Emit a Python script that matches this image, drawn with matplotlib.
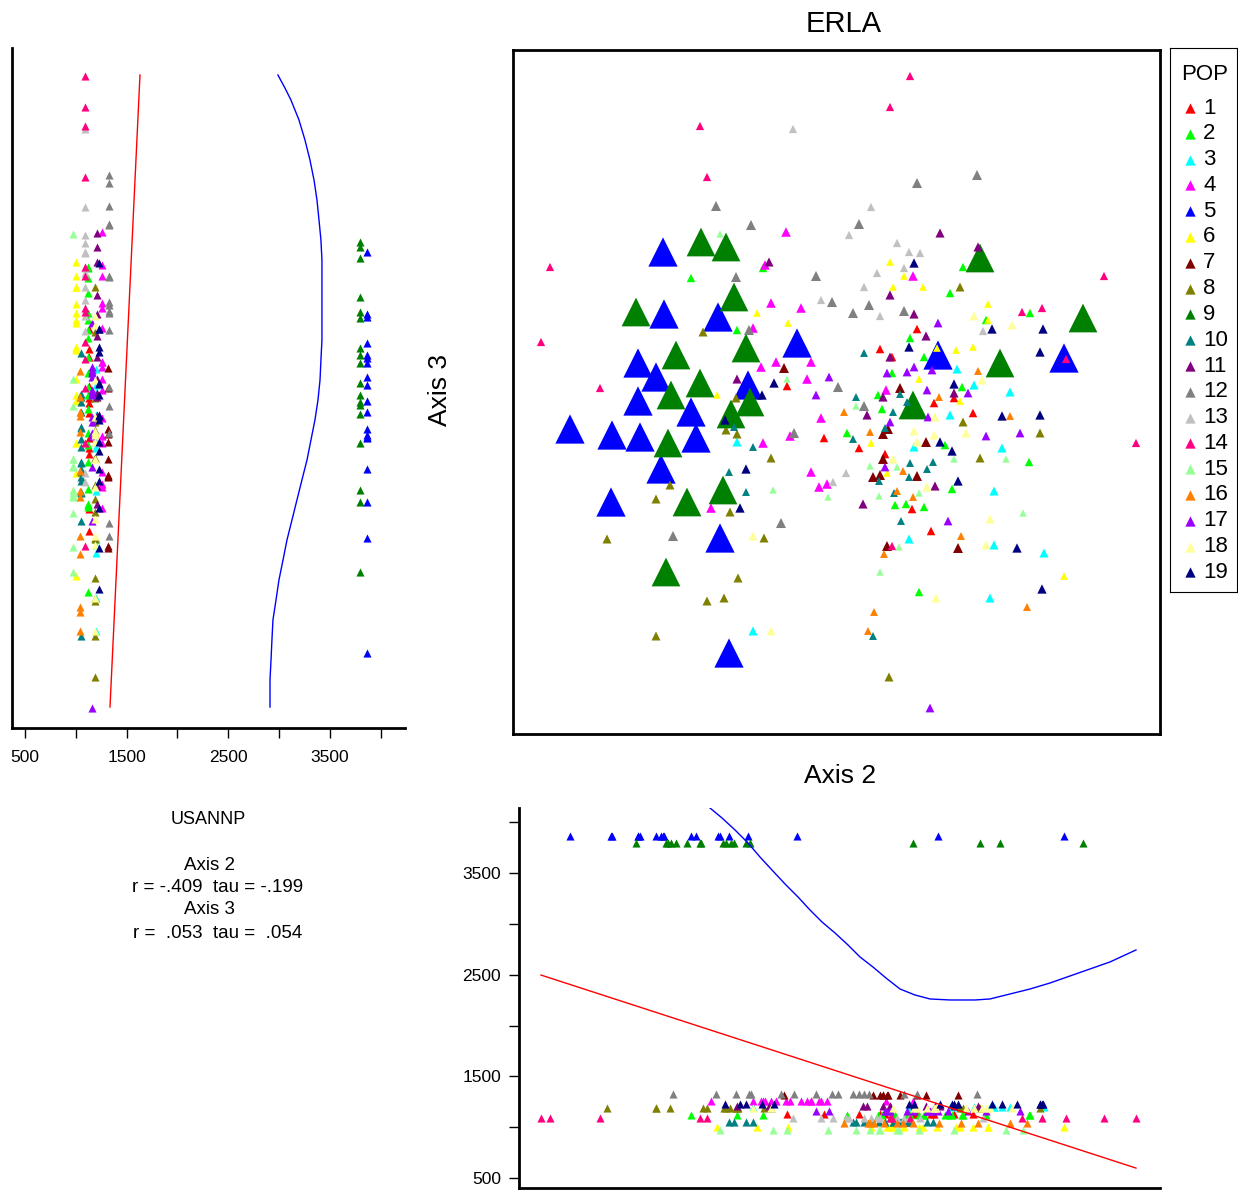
import numpy as np
import matplotlib.pyplot as plt

plt.rcParams['font.family'] = ['Liberation Sans', 'DejaVu Sans']

# populations: colour and USANNP value of each
pop_ids = list(range(1, 20))
pop_colors = ['#FF0000', '#00FF00', '#00FFFF', '#FF00FF', '#0000FF', '#FFFF00',
              '#800000', '#808000', '#008000', '#008080', '#800080', '#808080',
              '#C0C0C0', '#FF0080', '#99FF99', '#FF8000', '#9900FF', '#FFFF99',
              '#000080']
pop_usannp = [1130, 1116, 1200, 1262, 3866, 1003, 1313, 1190, 3797, 1047,
              1205, 1328, 1090, 1090, 973, 1045, 1158, 1190, 1230]

# plot scores on Axis 2 / Axis 3 and population of each plot
axis2 = [187, 194, 203, 207, 188, 213, 150, 37, 178, 397, 377, 280, 404, 358, 238,
         346, 273, 336, 427, 384, 396, 407, 377, 401, 391, 250, 252, 256, 223, 303,
         364, 391, 400, 464, 465, 467, 450, 591, 123, 151, 205, 221, 190, 28, 125,
         163, 143, 187, 87, 204, 158, 125, 178, 212, 213, 218, 57, 99, 127, 155,
         183, 148, 157, 216, 210, 143, 98, 174, 198, 258, 288, 308, 319, 351, 356,
         340, 367, 377, 380, 410, 391, 401, 244, 275, 284, 224, 240, 236, 233, 425,
         404, 397, 413, 396, 411, 425, 424, 351, 367, 377, 379, 263, 298, 248, 271,
         274, 274, 374, 379, 394, 401, 419, 406, 224, 235, 249, 261, 294, 316, 325,
         303, 237, 223, 343, 343, 351, 354, 331, 365, 373, 370, 387, 387, 414, 394,
         421, 426, 400, 369, 380, 308, 415, 422, 377, 372, 375, 370, 357, 221, 224,
         224, 277, 281, 311, 334, 340, 346, 358, 401, 404, 401, 413, 421, 427, 240,
         250, 258, 233, 372, 370, 380, 397, 420, 357, 372, 374, 384, 390, 396, 404,
         414, 360, 367, 366, 298, 333, 320, 306, 314, 260, 233, 315, 366, 381, 384,
         400, 406, 414, 422, 350, 382, 393, 411, 399, 227, 217, 437, 447, 475, 461,
         473, 475, 470, 479, 499, 509, 517, 529, 530, 570, 443, 460, 487, 527, 551,
         553, 444, 465, 469, 461, 441, 449, 441, 455, 441, 447, 497, 437, 460, 450,
         489, 497, 527, 453, 473, 507, 527, 623, 432, 439, 441, 467, 489, 493, 516,
         445, 439, 481, 94, 160, 207, 153, 194, 211, 143, 216, 268, 240, 251, 225,
         240, 258, 388, 418, 396, 374, 379, 386, 371, 367, 406, 423, 361, 355, 360,
         376, 417, 435, 477, 510, 448, 445, 473, 481, 504, 531, 551, 529, 477, 514]
axis3 = [608, 557, 528, 500, 492, 487, 482, 467, 456, 658, 627, 605, 551, 527, 509,
         510, 502, 499, 501, 491, 482, 481, 472, 471, 466, 466, 469, 472, 457, 458,
         461, 458, 458, 559, 487, 476, 467, 458, 422, 420, 417, 437, 402, 392, 371,
         379, 357, 351, 346, 339, 339, 333, 322, 314, 304, 320, 305, 299, 297, 291,
         296, 265, 249, 262, 244, 235, 232, 232, 226, 431, 426, 434, 432, 447, 429,
         421, 418, 439, 447, 447, 423, 420, 421, 411, 391, 404, 406, 404, 386, 411,
         405, 396, 398, 387, 377, 379, 386, 381, 385, 377, 377, 372, 372, 367, 366,
         355, 348, 361, 361, 362, 367, 364, 355, 355, 349, 339, 351, 355, 357, 347,
         339, 332, 336, 337, 328, 328, 319, 322, 339, 344, 337, 346, 340, 344, 332,
         331, 337, 329, 325, 322, 316, 317, 317, 312, 306, 305, 300, 302, 307, 300,
         292, 298, 301, 296, 301, 295, 286, 291, 303, 292, 287, 292, 299, 292, 287,
         291, 276, 265, 280, 275, 275, 271, 272, 268, 267, 261, 267, 263, 257, 258,
         265, 257, 259, 253, 262, 261, 252, 247, 250, 244, 242, 237, 238, 241, 243,
         237, 241, 247, 248, 230, 229, 230, 227, 225, 226, 222, 441, 447, 430, 418,
         414, 414, 403, 405, 409, 422, 421, 426, 405, 416, 384, 387, 371, 382, 376,
         375, 365, 363, 354, 349, 350, 347, 341, 341, 336, 333, 342, 319, 321, 312,
         318, 318, 319, 301, 298, 301, 301, 291, 289, 283, 275, 276, 286, 275, 272,
         253, 245, 243, 195, 198, 196, 162, 133, 136, 98, 81, 211, 198, 196, 156,
         103, 103, 213, 203, 195, 188, 188, 187, 180, 162, 142, 136, 122, 103, 98,
         57, 26, 213, 215, 221, 198, 186, 189, 189, 186, 181, 158, 145, 136, 127]
pop = [14, 14, 12, 15, 9, 9, 5, 14, 2, 14, 14, 13, 12, 13, 12,
       12, 4, 13, 11, 13, 13, 13, 6, 19, 13, 2, 4, 11, 12, 12,
       13, 6, 4, 12, 11, 9, 2, 14, 9, 5, 5, 9, 8, 14, 5,
       9, 5, 9, 14, 6, 9, 5, 5, 19, 8, 9, 5, 5, 5, 9,
       5, 5, 8, 10, 9, 8, 5, 9, 4, 4, 4, 13, 12, 13, 12,
       12, 13, 11, 6, 6, 12, 11, 6, 6, 5, 2, 4, 12, 9, 17,
       1, 2, 11, 19, 2, 5, 6, 10, 1, 11, 1, 4, 4, 4, 7,
       15, 1, 17, 2, 17, 17, 17, 6, 11, 5, 19, 19, 4, 17, 12,
       17, 9, 8, 10, 15, 12, 11, 16, 2, 4, 11, 7, 10, 17, 10,
       1, 16, 9, 2, 10, 4, 17, 18, 17, 10, 7, 7, 16, 10, 8,
       3, 4, 12, 1, 2, 10, 1, 6, 18, 18, 3, 7, 18, 19, 10,
       4, 8, 19, 1, 7, 18, 10, 10, 15, 17, 6, 15, 16, 10, 7,
       10, 7, 7, 10, 4, 13, 13, 4, 4, 15, 10, 15, 15, 10, 16,
       16, 15, 18, 11, 11, 2, 2, 2, 1, 19, 8, 2, 8, 6, 18,
       2, 6, 13, 19, 18, 14, 2, 14, 19, 9, 6, 6, 9, 19, 5,
       14, 3, 16, 18, 3, 19, 2, 11, 17, 1, 6, 3, 3, 1, 8,
       19, 16, 19, 18, 17, 17, 8, 14, 2, 19, 15, 8, 3, 15, 2,
       19, 2, 3, 8, 12, 5, 9, 8, 8, 8, 5, 12, 18, 8, 8,
       3, 18, 10, 1, 3, 7, 14, 15, 16, 15, 2, 18, 16, 16, 10,
       8, 17, 17, 18, 15, 16, 7, 18, 3, 19, 3, 6, 19, 3, 16]

# fitted lines: USANNP on Axis 3 (left joint plot)
fit3_axis3 = [27, 659]
fit3_usannp = [1336, 1631]
smooth3_axis3 = [27, 54, 74, 94, 114, 134, 154, 174, 194, 214, 234, 254, 274, 294, 314, 334, 354,
                 374, 394, 414, 434, 454, 474, 494, 514, 534, 554, 574, 594, 614, 634, 646, 659]
smooth3_usannp = [2910, 2910, 2920, 2929, 2939, 2969, 2998, 3038, 3077, 3126, 3175, 3224, 3274,
                  3313, 3352, 3382, 3402, 3411, 3421, 3421, 3421, 3421, 3421, 3411, 3392, 3372,
                  3343, 3303, 3254, 3195, 3116, 3057, 2988]
# fitted lines: USANNP on Axis 2 (bottom joint plot)
fit2_axis2 = [28, 623]
fit2_usannp = [2496, 598]
smooth2_axis2 = [197, 209, 222, 235, 247, 259, 272, 285, 297, 309, 322, 335, 347, 360, 373,
                 387, 402, 417, 437, 462, 477, 497, 517, 537, 557, 577, 597, 612, 623]
smooth2_usannp = [4139, 4041, 3923, 3795, 3657, 3529, 3392, 3264, 3136, 3018, 2910, 2792, 2674,
                  2575, 2467, 2359, 2300, 2261, 2251, 2251, 2261, 2310, 2359, 2418, 2487, 2556,
                  2625, 2693, 2743]

W, H = 1238, 1191
fig = plt.figure(figsize=(W / 100, H / 100), dpi=100)


def box(x0, y0, x1, y1):
    return [x0 / W, 1 - y1 / H, (x1 - x0) / W, (y1 - y0) / H]


a2 = np.array(axis2)
a3 = np.array(axis3)
pp = np.array(pop)
u = np.array(pop_usannp)[pp - 1]

# main ordination
ax = fig.add_axes(box(513, 50, 1160, 734))
for k, c in zip(pop_ids, pop_colors):
    m = pp == k
    ax.scatter(a2[m], a3[m], s=(u[m] * 0.00545) ** 2, marker='^', color=c, linewidths=0)
ax.set_xlim(0, 647)
ax.set_ylim(0, 684)
ax.set_xticks([])
ax.set_yticks([])
for s in ax.spines.values():
    s.set_linewidth(2)

# left joint plot
axl = fig.add_axes(box(12, 48, 405, 728))
for k, c in zip(pop_ids, pop_colors):
    m = pp == k
    axl.scatter(u[m], a3[m], s=34, marker='^', color=c, linewidths=0)
axl.plot(fit3_usannp, fit3_axis3, color='red', lw=1)
axl.plot(smooth3_usannp, smooth3_axis3, color='blue', lw=1)
axl.set_xlim(372, 4238)
axl.set_ylim(6, 686)
axl.set_yticks([])
axl.set_xticks([500, 1500, 2500, 3500])
axl.set_xticks([1000, 2000, 3000, 4000], minor=True)
axl.tick_params(axis='x', which='both', length=7, width=1, labelsize=12.5, pad=9)
axl.spines['top'].set_visible(False)
axl.spines['right'].set_visible(False)
axl.spines['left'].set_linewidth(2)
axl.spines['bottom'].set_linewidth(2)

# bottom joint plot
axb = fig.add_axes(box(519, 808, 1160, 1188))
for k, c in zip(pop_ids, pop_colors):
    m = pp == k
    axb.scatter(a2[m], u[m], s=34, marker='^', color=c, linewidths=0)
axb.plot(fit2_axis2, fit2_usannp, color='red', lw=1)
axb.plot(smooth2_axis2, smooth2_usannp, color='blue', lw=1)
axb.set_xlim(6, 647)
axb.set_ylim(402, 4139)
axb.set_xticks([])
axb.set_yticks([500, 1500, 2500, 3500])
axb.set_yticks([1000, 2000, 3000, 4000], minor=True)
axb.tick_params(axis='y', which='both', length=7, width=1, labelsize=12.5, pad=6)
axb.spines['top'].set_visible(False)
axb.spines['right'].set_visible(False)
axb.spines['left'].set_linewidth(2)
axb.spines['bottom'].set_linewidth(2)

# legend
axg = fig.add_axes(box(1170, 48, 1237, 592))
axg.set_xlim(0, 67)
axg.set_ylim(544, 0)
axg.set_xticks([])
axg.set_yticks([])
axg.text(35, 26, 'POP', ha='center', va='center', fontsize=16)
for i, (k, c) in enumerate(zip(pop_ids, pop_colors)):
    yy = 60 + 25.8 * i
    axg.scatter([20], [yy], s=55, marker='^', color=c, linewidths=0)
    axg.text(33, yy, str(k), ha='left', va='center', fontsize=16)

# titles and statistics
fig.text(844 / W, 1 - 24 / H, 'ERLA', ha='center', va='center', fontsize=21)
fig.text(440 / W, 1 - 390 / H, 'Axis 3', ha='center', va='center', rotation=90, fontsize=19)
fig.text(840 / W, 1 - 776 / H, 'Axis 2', ha='center', va='center', fontsize=19)
fig.text(208 / W, 1 - 819 / H, 'USANNP', ha='center', va='center', fontsize=13)
fig.text(209 / W, 1 - 865 / H, 'Axis 2', ha='center', va='center', fontsize=13.5)
fig.text(218 / W, 1 - 888 / H, 'r = -.409  tau = -.199', ha='center', va='center', fontsize=13.5)
fig.text(209 / W, 1 - 910 / H, 'Axis 3', ha='center', va='center', fontsize=13.5)
fig.text(218 / W, 1 - 933 / H, 'r =  .053  tau =  .054', ha='center', va='center', fontsize=13.5)

fig.savefig('out.png', dpi=100)
